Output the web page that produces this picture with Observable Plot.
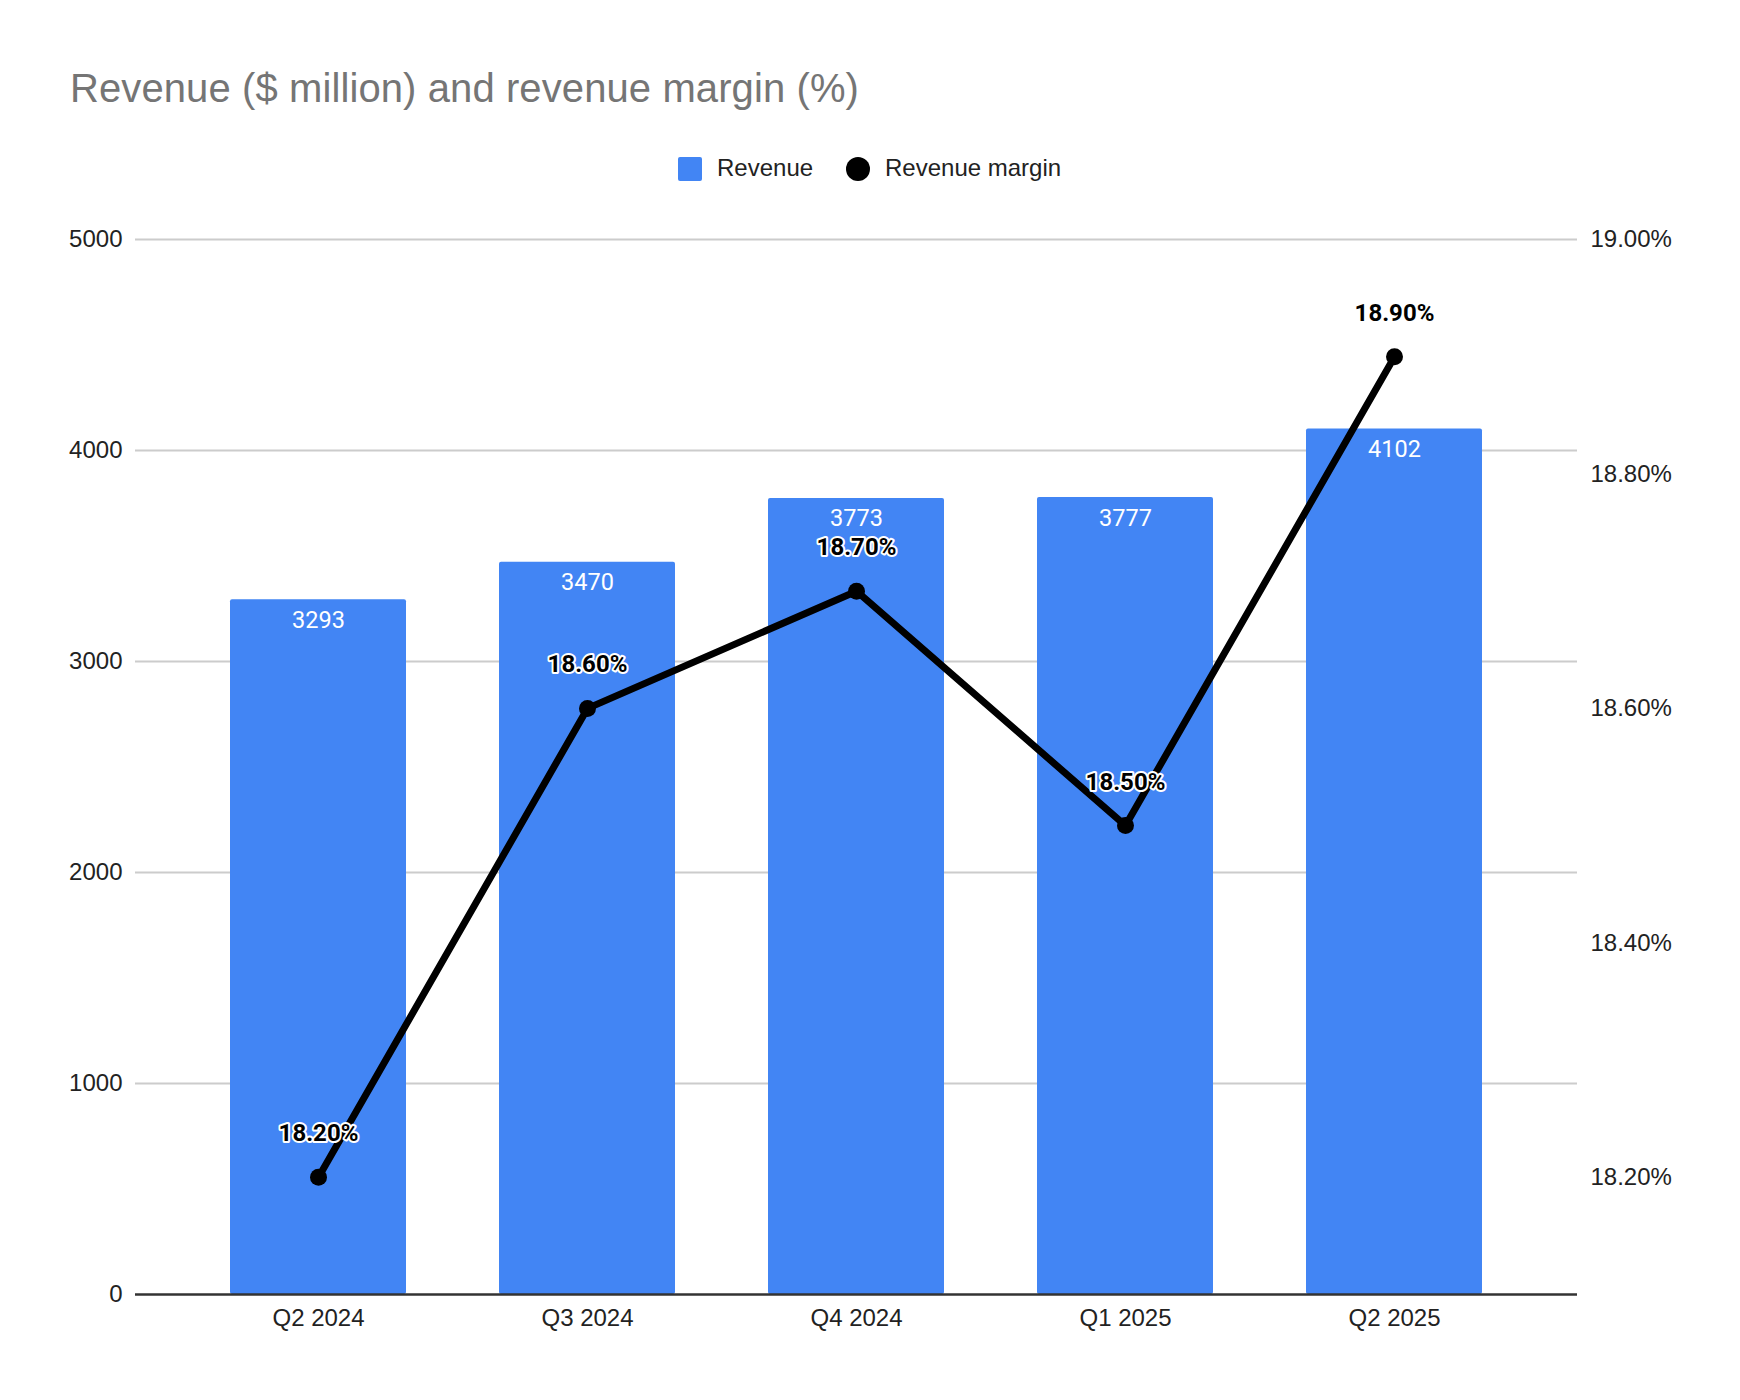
<!DOCTYPE html>
<html>
<head>
<meta charset="utf-8">
<script src="https://cdn.jsdelivr.net/npm/d3@7"></script>
<script src="https://cdn.jsdelivr.net/npm/@observablehq/plot@0.6"></script>
<style>
  html, body { margin: 0; padding: 0; background: #fff; }
  #page { position: relative; width: 1740px; height: 1400px; }
  #header { position: relative; width: 1740px; height: 200px; }
  .title { position: absolute; left: 70px; top: 68px; font: 40px/40px "Liberation Sans", Arial, sans-serif; color: #757575; white-space: nowrap; letter-spacing: 0.1px; }
  .leg-text { position: absolute; top: 156px; font: 24px/24px "Liberation Sans", Arial, sans-serif; color: #222; white-space: nowrap; }
  .sw-rect { position: absolute; left: 678px; top: 157px; width: 24px; height: 24px; background: #4285F4; border-radius: 2px; }
  .sw-dot { position: absolute; left: 846px; top: 157px; width: 24px; height: 24px; background: #000; border-radius: 50%; }
  #chart svg { display: block; }
</style>
</head>
<body>
<div id="page">
  <div id="header">
    <div class="title">Revenue ($ million) and revenue margin (%)</div>
    <div class="sw-rect"></div>
    <div class="leg-text" style="left:717px">Revenue</div>
    <div class="sw-dot"></div>
    <div class="leg-text" style="left:885px">Revenue margin</div>
  </div>
  <div id="chart"></div>
</div>
<script>
// ---- data ----
const quarters = ["Q2 2024", "Q3 2024", "Q4 2024", "Q1 2025", "Q2 2025"];
const revenue = [3293, 3470, 3773, 3777, 4102];
const revenueMargin = [18.2, 18.6, 18.7, 18.5, 18.9];
const revenueTicks = [0, 1000, 2000, 3000, 4000, 5000];
const marginTicks = [18.2, 18.4, 18.6, 18.8, 19.0];
const revenueDomain = [0, 5000];
const marginDomain = [18.1, 19.0];

const rows = quarters.map((q, i) => ({quarter: q, revenue: revenue[i], margin: revenueMargin[i]}));

// map the secondary (margin) axis onto the primary y scale
const toLeft = d3.scaleLinear().domain(marginDomain).range(revenueDomain);
const fmtPct = v => v.toFixed(2) + "%";

const plot = Plot.plot({
  width: 1740,
  height: 1200,
  marginTop: 39,
  marginBottom: 106,
  marginLeft: 135,
  marginRight: 163,
  style: {fontFamily: "'Liberation Sans', Arial, sans-serif", fontSize: "24px", color: "#222", background: "#fff"},
  x: {domain: quarters, paddingInner: 0.346, paddingOuter: 0.351, label: null},
  y: {domain: revenueDomain, label: null},
  marks: [
    Plot.ruleY(revenueTicks.filter(t => t > 0), {stroke: "#cccccc", strokeWidth: 2}),
    Plot.barY(rows, {x: "quarter", y: "revenue", fill: "#4285F4", rx: 2}),
    Plot.ruleY([0], {stroke: "#333333", strokeWidth: 2.5}),
    Plot.axisY({anchor: "left", ticks: revenueTicks, tickSize: 0, tickPadding: 13, tickFormat: d => String(d), fontSize: 24, label: null}),
    Plot.axisY({anchor: "right", ticks: marginTicks.map(m => toLeft(m)), tickSize: 0, tickPadding: 13,
                tickFormat: d => fmtPct(toLeft.invert(d)), fontSize: 24, label: null}),
    Plot.axisX({tickSize: 0, tickPadding: 14, fontSize: 24, label: null}),
    Plot.text(rows, {x: "quarter", y: "revenue", text: d => String(d.revenue), fill: "white",
                     fontSize: 23.5, fontFamily: "Roboto, sans-serif", lineAnchor: "bottom", dy: 28}),
    Plot.line(rows, {x: "quarter", y: d => toLeft(d.margin), stroke: "black", strokeWidth: 7, strokeLinejoin: "round"}),
    Plot.dot(rows, {x: "quarter", y: d => toLeft(d.margin), r: 8.5, fill: "black"}),
    Plot.text(rows, {x: "quarter", y: d => toLeft(d.margin), text: d => fmtPct(d.margin),
                     fill: "black", stroke: "white", strokeWidth: 4, fontWeight: "bold",
                     fontSize: 24, fontFamily: "Roboto, sans-serif", lineAnchor: "bottom", dy: -36})
  ]
});
document.getElementById("chart").appendChild(plot);
</script>
</body>
</html>
